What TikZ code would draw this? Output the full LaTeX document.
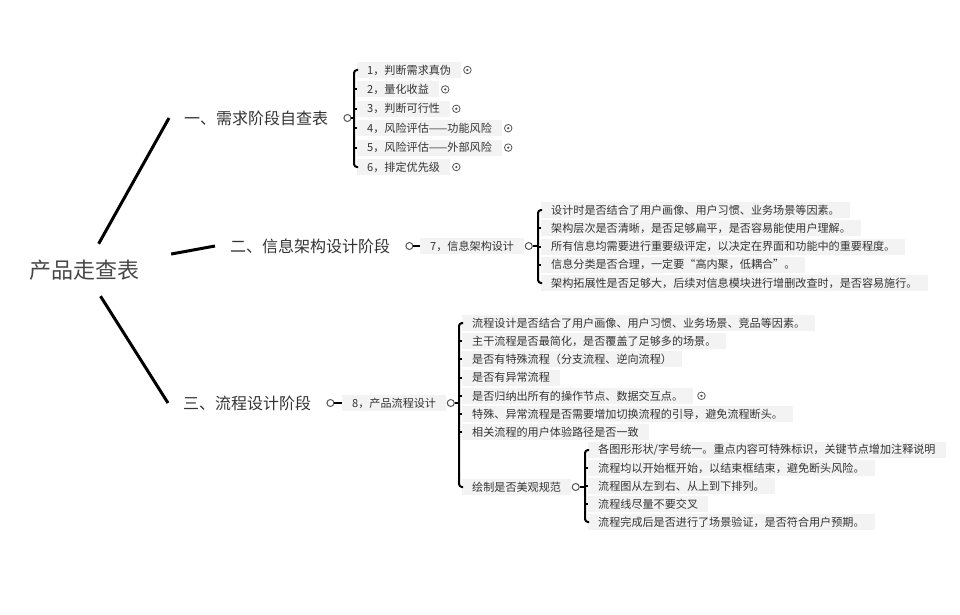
\documentclass[tikz,border=0pt]{standalone}
\usepackage{fontspec}
\setmainfont{Noto Sans CJK SC}
\usetikzlibrary{positioning}

\definecolor{inkgray}{HTML}{333333}
\definecolor{boxgray}{HTML}{F3F3F3}
\definecolor{knobgray}{HTML}{555555}

\begin{document}
\begin{tikzpicture}[x=1pt, y=-1pt,
    root/.style={text=inkgray!90, font=\fontsize{22}{24}\selectfont, minimum width=174pt, minimum height=52pt, inner sep=0pt},
    stage/.style={anchor=west, text=inkgray, font=\fontsize{16}{18}\selectfont, inner xsep=15pt, inner ysep=3pt},
    item/.style={anchor=west, fill=boxgray, text=inkgray, font=\fontsize{11.1}{12}\selectfont, inner xsep=10pt, inner ysep=0pt, minimum height=16pt},
    knob/.style={circle, draw=knobgray, fill=white, line width=1pt, minimum size=7pt, inner sep=0pt},
    foldmark/.style={circle, draw=knobgray, line width=0.8pt, minimum size=7.5pt, inner sep=0pt,
        path picture={\fill[knobgray] (path picture bounding box.center) circle (1.3pt);}},
    branch/.style={line width=3pt},
    stem/.style={line width=1.6pt},
    brace/.style={line width=2pt, rounded corners=3pt}]

    \useasboundingbox (0,0) rectangle (960,615);

    % Root
    \node[root] (root) at (84,270) {产品走查表};

    % Stages
    \node[stage] (s1) at (169,118) {一、需求阶段自查表};
    \node[stage] (s2) at (215,246) {二、信息架构设计阶段};
    \node[stage] (s3) at (168,403) {三、流程设计阶段};

    \draw[branch] (root) -- (s1.west);
    \draw[branch] (root) -- (s2.west);
    \draw[branch] (root) -- (s3.west);

    % Stage 1 checklist
    \node[knob, right=0pt of s1] (k1) {};
    \coordinate (b1) at (354,118);
    \node[item] (c11) at (357,70) {1，判断需求真伪};
    \node[item] (c12) at (357,89.4) {2，量化收益};
    \node[item] (c13) at (357,108.8) {3，判断可行性};
    \node[item] (c14) at (357,128.2) {4，风险评估——功能风险};
    \node[item] (c15) at (357,147.6) {5，风险评估——外部风险};
    \node[item] (c16) at (357,167) {6，排定优先级};
    \foreach \c in {c11,c12,c13,c14,c15,c16}
        \node[foldmark, right=2pt of \c] (f\c) {};

    \draw[stem] (k1) -- (b1);
    \draw[brace] (b1 |- c11.west) ++(4,0) -- (b1 |- c11.west) -- (b1 |- c16.west) -- ++(4,0);
    \foreach \c in {c12,c13,c14,c15}
        \draw[brace] (b1 |- \c.west) -- (\c.west);

    % Stage 2
    \node[knob, right=0pt of s2] (k2) {};
    \node[item] (n7) at (420,246) {7，信息架构设计};
    \draw[stem] (k2) -- (n7);

    \node[knob, right=0.5pt of n7] (k7) {};
    \coordinate (b2) at (538,246);
    \node[item] (c21) at (541,210) {设计时是否结合了用户画像、用户习惯、业务场景等因素。};
    \node[item] (c22) at (541,228.25) {架构层次是否清晰，是否足够扁平，是否容易能使用户理解。};
    \node[item] (c23) at (541,246.5) {所有信息均需要进行重要级评定，以决定在界面和功能中的重要程度。};
    \node[item] (c24) at (541,264.75) {信息分类是否合理，一定要“高内聚，低耦合”。};
    \node[item] (c25) at (541,283) {架构拓展性是否足够大，后续对信息模块进行增删改查时，是否容易施行。};

    \draw[stem] (k7) -- (b2);
    \draw[brace] (b2 |- c21.west) ++(4,0) -- (b2 |- c21.west) -- (b2 |- c25.west) -- ++(4,0);
    \foreach \c in {c22,c23,c24}
        \draw[brace] (b2 |- \c.west) -- (\c.west);

    % Stage 3
    \node[knob, right=0pt of s3] (k3) {};
    \node[item] (n8) at (342,403) {8，产品流程设计};
    \draw[stem] (k3) -- (n8);

    \node[knob, right=0.5pt of n8] (k8) {};
    \coordinate (b3) at (459,403);
    \node[item] (c31) at (462,323) {流程设计是否结合了用户画像、用户习惯、业务场景、竞品等因素。};
    \node[item] (c32) at (462,341.2) {主干流程是否最简化，是否覆盖了足够多的场景。};
    \node[item] (c33) at (462,359.4) {是否有特殊流程（分支流程、逆向流程）};
    \node[item] (c34) at (462,377.6) {是否有异常流程};
    \node[item] (c35) at (462,395.8) {是否归纳出所有的操作节点、数据交互点。};
    \node[item] (c36) at (462,414) {特殊、异常流程是否需要增加切换流程的引导，避免流程断头。};
    \node[item] (c37) at (462,432.2) {相关流程的用户体验路径是否一致};
    \node[item] (c38) at (462,487) {绘制是否美观规范};
    \node[foldmark, right=4pt of c35] (fc35) {};

    \draw[stem] (k8) -- (b3);
    \draw[brace] (b3 |- c31.west) ++(4,0) -- (b3 |- c31.west) -- (b3 |- c38.west) -- ++(4,0);
    \foreach \c in {c32,c33,c34,c35,c36,c37}
        \draw[brace] (b3 |- \c.west) -- (\c.west);

    % Drawing rules
    \node[knob, right=0.5pt of c38] (k38) {};
    \coordinate (b4) at (585,487);
    \node[item] (c41) at (588,450) {各图形形状/字号统一。重点内容可特殊标识，关键节点增加注释说明};
    \node[item] (c42) at (588,468) {流程均以开始框开始，以结束框结束，避免断头风险。};
    \node[item] (c43) at (588,486) {流程图从左到右、从上到下排列。};
    \node[item] (c44) at (588,504) {流程线尽量不要交叉};
    \node[item] (c45) at (588,522) {流程完成后是否进行了场景验证，是否符合用户预期。};

    \draw[stem] (k38) -- (b4);
    \draw[brace] (b4 |- c41.west) ++(4,0) -- (b4 |- c41.west) -- (b4 |- c45.west) -- ++(4,0);
    \foreach \c in {c42,c43,c44}
        \draw[brace] (b4 |- \c.west) -- (\c.west);

\end{tikzpicture}
\end{document}
